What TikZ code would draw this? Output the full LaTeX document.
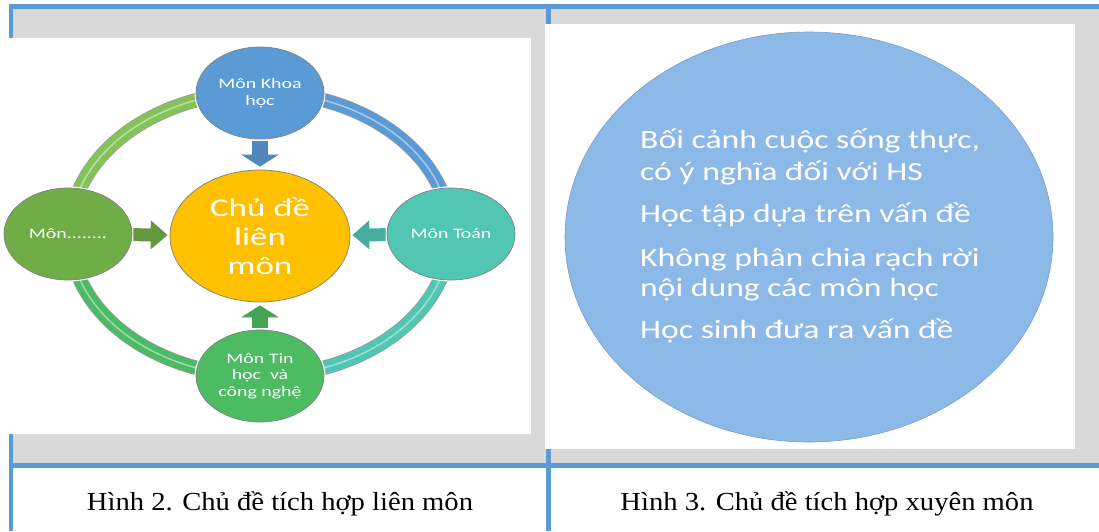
\documentclass[tikz,border=0pt]{standalone}
\usepackage{fontspec}
\setmainfont{Liberation Serif}
\newfontfamily\smartfont[FakeStretch=1.37]{Carlito}
\newfontfamily\bubblefont[FakeStretch=1.28]{Carlito}
\newfontfamily\capfont[FakeStretch=1.1]{Liberation Serif}
\usetikzlibrary{shapes.geometric,arrows.meta}

\definecolor{tblue}{HTML}{5B9BD5}
\definecolor{cellgrey}{HTML}{D9D9D9}
\definecolor{khoacol}{HTML}{5B9BD5}
\definecolor{chudecol}{HTML}{FFC000}
\definecolor{moncol}{HTML}{70AD47}
\definecolor{toancol}{HTML}{50C6B3}
\definecolor{tincol}{HTML}{4CBB62}
\definecolor{ringtl}{HTML}{84C25A}
\definecolor{ringbl}{HTML}{4CBB66}
\definecolor{bubblecol}{HTML}{8DB9E8}

\tikzset{
  tline/.style={tblue, line width=4.5pt},
  subj/.style={ellipse, minimum width=128pt, minimum height=92pt, inner sep=0pt,
    text=white, align=center, font=\smartfont\fontsize{14.5}{16.5}\selectfont,
    preaction={draw=white, line width=3pt}, draw=black!50, line width=0.7pt},
  ring/.style={line width=13pt, preaction={draw=black!40, line width=14.5pt},
    postaction={draw=white, line width=1.5pt, opacity=.45}},
  blockv/.style={line width=16pt, -{Triangle[length=12pt, width=37pt]},
    shorten <=2pt, shorten >=3pt},
  blockh/.style={line width=13pt, -{Triangle[length=17pt, width=28pt]},
    shorten <=1pt, shorten >=2pt},
  idea/.style={anchor=base west, inner sep=0pt, text=white,
    font=\bubblefont\fontsize{26.3}{31}\selectfont},
  caption/.style={anchor=base, inner sep=0pt, font=\capfont\fontsize{26}{30}\selectfont}
}

\begin{document}
\begin{tikzpicture}[x=1pt,y=-1pt]
  \useasboundingbox (0,0) rectangle (1099,531);
  % table
  \fill[cellgrey] (13,9) rectangle (1099,463);
  \draw[tline] (9,6.5)   -- (1099,6.5);      % top rule
  \draw[tline] (9,465.5) -- (1099,465.5);    % mid rule
  \draw[tline] (11,4)    -- (11,531);        % left rule
  \draw[tline] (548.5,4) -- (548.5,531);     % column rule
  \fill[white] (7,38)   rectangle (531,434); % picture 2
  \fill[white] (545,24) rectangle (1075,449);% picture 3

  % Hinh 2: ring
  \coordinate (ringW) at (70,234);
  \coordinate (ringN) at (260,92);
  \coordinate (ringE) at (450,234);
  \coordinate (ringS) at (260,376);
  \draw[ring, ringtl]   (ringW) arc[start angle=180, end angle=270, x radius=190, y radius=142];
  \draw[ring, khoacol]  (ringN) arc[start angle=270, end angle=360, x radius=190, y radius=142];
  \draw[ring, toancol]  (ringE) arc[start angle=0,   end angle=90,  x radius=190, y radius=142];
  \draw[ring, ringbl]   (ringS) arc[start angle=90,  end angle=180, x radius=190, y radius=142];

  \node[subj, fill=khoacol] (khoa) at (260,93)  {Môn Khoa\\học};
  \node[subj, fill=moncol]  (mon)  at (68,234)  {Môn........};
  \node[subj, fill=toancol] (toan) at (451,234) {Môn Toán};
  \node[subj, fill=tincol]  (tin)  at (260,376) {Môn Tin\\học~ và\\công nghệ};
  \node[subj, fill=chudecol, minimum width=180pt, minimum height=132pt,
        font=\smartfont\fontsize{25.5}{29}\selectfont] (chude) at (260,236) {Chủ đề\\liên\\môn};

  \draw[blockv, khoacol!88!black] (khoa) -- (chude);
  \draw[blockv, tincol!88!black]  (tin)  -- (chude);
  \draw[blockh, moncol!88!black]  (mon)  -- (chude);
  \draw[blockh, toancol!88!black] (toan) -- (chude);

  % Hinh 3
  \node[ellipse, fill=bubblecol, draw=bubblecol!85!black, line width=0.6pt,
        minimum width=488pt, minimum height=410pt, inner sep=0pt] (bubble) at (809,237) {};
  \node[idea] (l1) at (640,148) {Bối cảnh cuộc sống thực,};
  \node[idea] (l2) at (640,180) {có ý nghĩa đối với HS};
  \node[idea] (l3) at (640,222) {Học tập dựa trên vấn đề};
  \node[idea] (l4) at (640,266) {Không phân chia rạch rời};
  \node[idea] (l5) at (640,296) {nội dung các môn học};
  \node[idea] (l6) at (640,338) {Học sinh đưa ra vấn đề};

  % captions
  \node[caption] (cap2) at (280,510) {Hình 2. Chủ đề tích hợp liên môn};
  \node[caption] (cap3) at (827,510) {Hình 3. Chủ đề tích hợp xuyên môn};
\end{tikzpicture}
\end{document}
